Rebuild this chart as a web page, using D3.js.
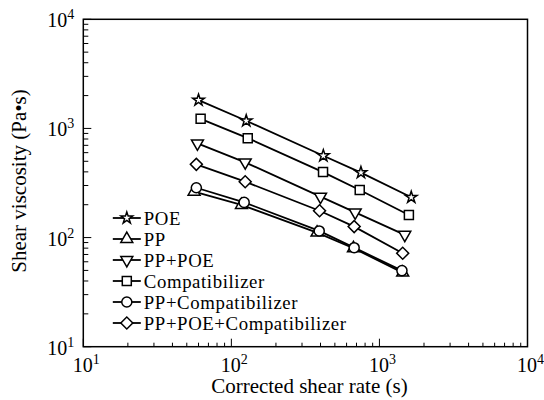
<!DOCTYPE html>
<html>
<head>
<meta charset="utf-8">
<script src="https://cdn.jsdelivr.net/npm/d3@7"></script>
<style>
  body { margin: 0; background: #fff; }
  text { font-family: "Liberation Serif", "Times New Roman", serif; fill: #000; }
</style>
</head>
<body>
<div id="chart-area"></div>
<script>
// series names in legend order
var seriesNames = ["POE", "PP", "PP+POE", "Compatibilizer", "PP+Compatibilizer", "PP+POE+Compatibilizer"];

// corrected shear rate (1/s) for each series
var rateValues = [
  [60, 126, 418, 750, 1640],   // POE
  [56, 117, 379, 668, 1436],   // PP
  [59, 124, 400, 686, 1483],   // PP+POE
  [62, 129, 416, 736, 1581],   // Compatibilizer
  [58, 122, 392, 675, 1419],   // PP+Compatibilizer
  [58, 124, 394, 675, 1436]    // PP+POE+Compatibilizer
];

// shear viscosity (Pa.s)
var viscValues = [
  [1815, 1175, 562, 394, 234],
  [263, 199, 111, 79.8, 47.7],
  [729, 489, 237, 170, 106],
  [1224, 815, 398, 273, 161],
  [286, 210, 115, 80.8, 49.8],
  [469, 325, 176, 126, 71.8]
];

var markerTypes = ["star", "triUp", "triDown", "square", "circle", "diamond"];

var xTickValues = [10, 100, 1000, 10000];
var yTickValues = [10, 100, 1000, 10000];

var margin = {top: 19.3, left: 83.3, right: 16.5, bottom: 53.3};
var width = 544 - margin.left - margin.right;
var height = 400 - margin.top - margin.bottom;

var svg = d3.select("#chart-area")
  .append("svg")
  .attr("width", 544)
  .attr("height", 400);

var g = svg.append("g")
  .attr("transform", "translate(" + margin.left + "," + margin.top + ")");

var x = d3.scaleLog().domain([10, 10000]).range([0, width]);
var y = d3.scaleLog().domain([10, 10000]).range([height, 0]);

// minor ticks 2..9 per decade
function minorTicks(lo, hi) {
  var out = [];
  for (var d = lo; d < hi; d *= 10) {
    for (var k = 2; k <= 9; k++) out.push(d * k);
  }
  return out;
}

// bottom axis ticks (inward)
var xAxisG = g.append("g").attr("transform", "translate(0," + height + ")");
xAxisG.selectAll(".minor").data(minorTicks(10, 10000)).enter().append("line")
  .attr("x1", d => x(d)).attr("x2", d => x(d))
  .attr("y1", 0).attr("y2", -4)
  .attr("stroke", "#000").attr("stroke-width", 1);
xAxisG.selectAll(".major").data(xTickValues).enter().append("line")
  .attr("x1", d => x(d)).attr("x2", d => x(d))
  .attr("y1", 0).attr("y2", -8)
  .attr("stroke", "#000").attr("stroke-width", 1);
var xl = xAxisG.selectAll(".lab").data(xTickValues).enter().append("text")
  .attr("x", d => x(d) + 3)
  .attr("y", 25)
  .attr("text-anchor", "middle")
  .attr("font-size", "20px");
xl.append("tspan").text("10");
xl.append("tspan").attr("dy", -8).attr("font-size", "14px").text(d => Math.round(Math.log10(d)));

// left axis ticks (inward)
var yAxisG = g.append("g");
yAxisG.selectAll(".minor").data(minorTicks(10, 10000)).enter().append("line")
  .attr("y1", d => y(d)).attr("y2", d => y(d))
  .attr("x1", 0).attr("x2", 5)
  .attr("stroke", "#000").attr("stroke-width", 1);
yAxisG.selectAll(".major").data(yTickValues).enter().append("line")
  .attr("y1", d => y(d)).attr("y2", d => y(d))
  .attr("x1", 0).attr("x2", 8)
  .attr("stroke", "#000").attr("stroke-width", 1);
var yl = yAxisG.selectAll(".lab").data(yTickValues).enter().append("text")
  .attr("x", -9)
  .attr("y", d => y(d) + 8)
  .attr("text-anchor", "end")
  .attr("font-size", "20px");
yl.append("tspan").text("10");
yl.append("tspan").attr("dy", -8).attr("font-size", "14px").text(d => Math.round(Math.log10(d)));

// frame
g.append("rect")
  .attr("x", 0).attr("y", 0)
  .attr("width", width).attr("height", height)
  .attr("fill", "none")
  .attr("stroke", "#000").attr("stroke-width", 1.5);

// axis titles
g.append("text")
  .attr("x", width / 2 + 4)
  .attr("y", height + 46)
  .attr("text-anchor", "middle")
  .attr("font-size", "21px")
  .text("Corrected shear rate (s)");

g.append("text")
  .attr("transform", "rotate(-90)")
  .attr("x", -height / 2 + 2)
  .attr("y", -57)
  .attr("text-anchor", "middle")
  .attr("font-size", "21px")
  .text("Shear viscosity (Pa\u2022s)");

function markerPath(type) {
  if (type === "star") return d3.symbol(d3.symbolStar, 42)();
  if (type === "triUp" || type === "triDown") return d3.symbol(d3.symbolTriangle, 62)();
  if (type === "square") return d3.symbol(d3.symbolSquare, 81)();
  if (type === "circle") return d3.symbol(d3.symbolCircle, 80)();
  if (type === "diamond") return d3.symbol(d3.symbolSquare, 72)();
}
function markerRot(type) {
  if (type === "triDown") return 180;
  if (type === "diamond") return 45;
  return 0;
}

var line = d3.line().x(d => x(d[0])).y(d => y(d[1]));

seriesNames.forEach(function(name, i) {
  var pts = rateValues[i].map((r, j) => [r, viscValues[i][j]]);
  var sg = g.append("g").attr("class", "series");
  sg.append("path")
    .datum(pts)
    .attr("d", line)
    .attr("fill", "none")
    .attr("stroke", "#000")
    .attr("stroke-width", 1.8);
  sg.selectAll("path.mk").data(pts).enter().append("path")
    .attr("class", "mk")
    .attr("d", markerPath(markerTypes[i]))
    .attr("transform", d => "translate(" + x(d[0]) + "," + y(d[1]) + ") rotate(" + markerRot(markerTypes[i]) + ")")
    .attr("fill", "#fff")
    .attr("stroke", "#000")
    .attr("stroke-width", 1.5);
});

// legend (rows are tight, as in the original)
var legend = g.append("g").attr("transform", "translate(" + (112.8 - margin.left) + "," + (218 - margin.top) + ")");
seriesNames.forEach(function(name, i) {
  var row = legend.append("g").attr("transform", "translate(0," + (i * 21) + ")");
  row.append("line")
    .attr("x1", 0).attr("x2", 28)
    .attr("y1", 0).attr("y2", 0)
    .attr("stroke", "#000").attr("stroke-width", 1.8);
  row.append("path")
    .attr("d", markerPath(markerTypes[i]))
    .attr("transform", "translate(14,0) rotate(" + markerRot(markerTypes[i]) + ")")
    .attr("fill", "#fff")
    .attr("stroke", "#000")
    .attr("stroke-width", 1.5);
  row.append("text")
    .attr("x", 31)
    .attr("y", 6.5)
    .attr("font-size", "18.8px")
    .attr("letter-spacing", "0.6px")
    .text(name);
});
</script>
</body>
</html>
